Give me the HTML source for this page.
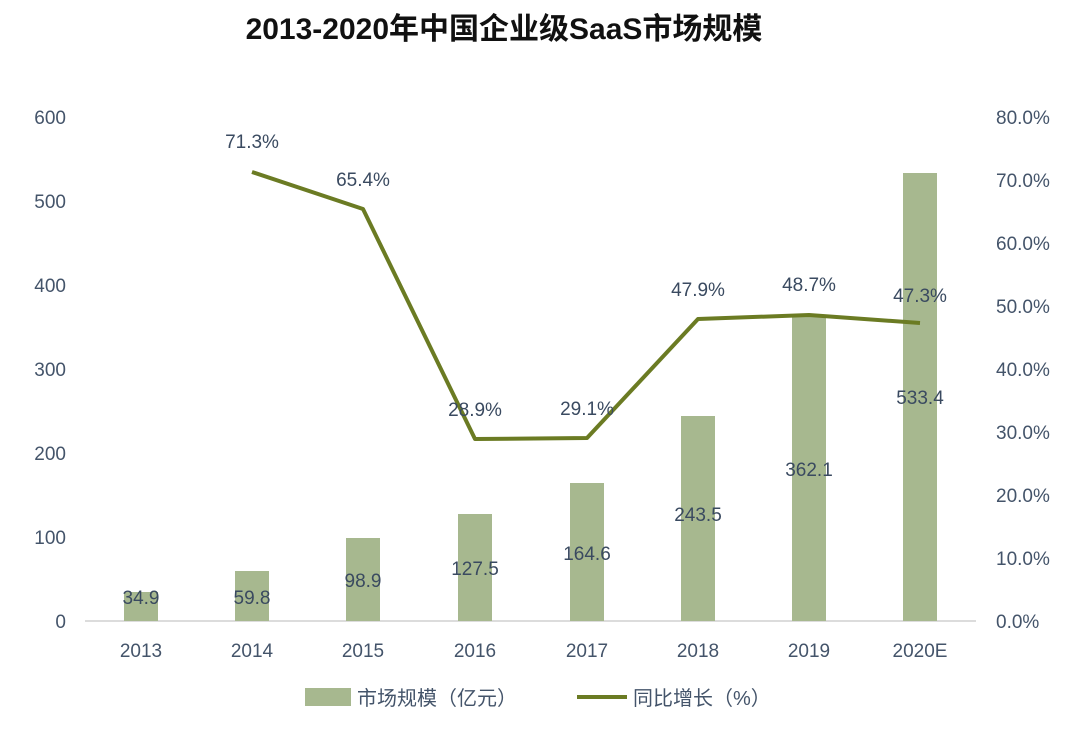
<!DOCTYPE html>
<html><head><meta charset="utf-8"><style>
body{margin:0;background:#fff;}
svg text{font-family:"Liberation Sans","Noto Sans CJK SC",sans-serif;}
</style></head><body>
<svg width="1089" height="729" viewBox="0 0 1089 729" xmlns="http://www.w3.org/2000/svg">
<rect width="1089" height="729" fill="#fff"/>
<text x="504" y="39" text-anchor="middle" font-size="30" font-weight="bold" fill="#111">2013-2020年中国企业级SaaS市场规模</text>
<g font-size="19" fill="#44546a" text-anchor="end">
<text x="66" y="124">600</text><text x="66" y="208">500</text><text x="66" y="292">400</text>
<text x="66" y="376">300</text><text x="66" y="460">200</text><text x="66" y="544">100</text><text x="66" y="628">0</text>
</g>
<g font-size="19" fill="#44546a" text-anchor="start">
<text x="996" y="124">80.0%</text><text x="996" y="187">70.0%</text><text x="996" y="250">60.0%</text>
<text x="996" y="313">50.0%</text><text x="996" y="376">40.0%</text><text x="996" y="439">30.0%</text>
<text x="996" y="502">20.0%</text><text x="996" y="565">10.0%</text><text x="996" y="628">0.0%</text>
</g>
<line x1="85" y1="621" x2="976" y2="621" stroke="#d0d0d0" stroke-width="1.5"/>
<g fill="#a7b88f">
<rect x="124" y="592" width="34" height="29"/>
<rect x="235" y="571" width="34" height="50"/>
<rect x="346" y="538" width="34" height="83"/>
<rect x="458" y="514" width="34" height="107"/>
<rect x="570" y="483" width="34" height="138"/>
<rect x="681" y="416" width="34" height="205"/>
<rect x="792" y="317" width="34" height="304"/>
<rect x="903" y="173" width="34" height="448"/>
</g>
<g font-size="19" fill="#44546a" text-anchor="middle">
<text x="141" y="657">2013</text><text x="252" y="657">2014</text><text x="363" y="657">2015</text>
<text x="475" y="657">2016</text><text x="587" y="657">2017</text><text x="698" y="657">2018</text>
<text x="809" y="657">2019</text><text x="920" y="657">2020E</text>
</g>
<g font-size="19" fill="#3a4a60" text-anchor="middle">
<text x="141" y="604">34.9</text><text x="252" y="604">59.8</text><text x="363" y="587">98.9</text>
<text x="475" y="575">127.5</text><text x="587" y="560">164.6</text><text x="698" y="521">243.5</text>
<text x="809" y="476">362.1</text><text x="920" y="404">533.4</text>
</g>
<polyline points="252,172 363,209 475,439 587,438 698,319 809,315 920,323" fill="none" stroke="#6b7b23" stroke-width="4" stroke-linejoin="round"/>
<g font-size="19" fill="#3a4a60" text-anchor="middle">
<text x="252" y="148">71.3%</text><text x="363" y="186">65.4%</text><text x="475" y="416">28.9%</text>
<text x="587" y="415">29.1%</text><text x="698" y="296">47.9%</text><text x="809" y="291">48.7%</text><text x="920" y="302">47.3%</text>
</g>
<rect x="305" y="688" width="46" height="18" fill="#a7b88f"/>
<text x="357" y="705" font-size="20" fill="#44546a">市场规模（亿元）</text>
<line x1="577" y1="697" x2="627" y2="697" stroke="#6b7b23" stroke-width="4"/>
<text x="633" y="705" font-size="20" fill="#44546a">同比增长（%）</text>
</svg>
</body></html>
